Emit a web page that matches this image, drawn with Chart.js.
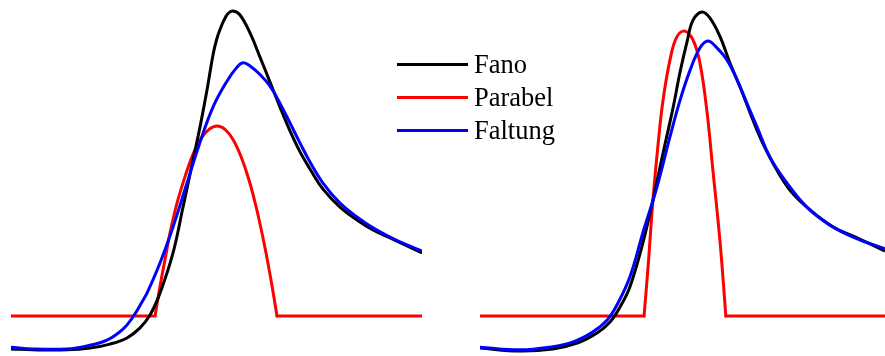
<!DOCTYPE html>
<html lang="de">
<head>
<meta charset="utf-8">
<title>Fano, Parabel, Faltung</title>
<script src="https://cdn.jsdelivr.net/npm/chart.js@4/dist/chart.umd.min.js"></script>
<style>
  html, body { margin: 0; padding: 0; background: #ffffff; }
  body { width: 885px; height: 356px; position: relative; overflow: hidden; }
  canvas { position: absolute; top: 0; }
  #links { left: 11px; }
  #rechts { left: 480px; }
  .leg-line { position: absolute; left: 397px; width: 71px; height: 3px; }
  .leg-text { position: absolute; left: 474px; font-family: "Liberation Serif", "Times New Roman", serif;
              font-size: 26.5px; line-height: 26px; color: #000; white-space: nowrap; }
</style>
</head>
<body>
<canvas id="links" width="411" height="356"></canvas>
<canvas id="rechts" width="405" height="356"></canvas>
<div id="legende"></div>
<script>
// Energieachse (willkürliche Einheiten, 0 … 100) und normierte Intensität (Fano-Maximum = 1)

// Linkes Bild: breite Parabel
const energieFanoL = [0, 5.35, 13.63, 19.22, 24.09, 28.22, 31.39, 33.82, 36.25, 39.42, 41.85, 44.28, 45.99, 47.69, 49.15, 50.0, 50.85, 51.82, 52.80, 54.01, 55.72, 58.15, 60.58, 63.02, 65.45, 67.88, 70.32, 72.75, 75.91, 80.05, 84.18, 88.08, 92.21, 96.35, 100];
const fanoL = [-0.108, -0.111, -0.111, -0.105, -0.092, -0.072, -0.039, 0.003, 0.075, 0.207, 0.357, 0.511, 0.620, 0.741, 0.856, 0.905, 0.939, 0.970, 0.992, 1.0, 0.987, 0.928, 0.849, 0.767, 0.685, 0.607, 0.538, 0.482, 0.416, 0.357, 0.315, 0.282, 0.256, 0.230, 0.207];

const energieParabelL = [0, 35.04, 36.25, 37.47, 38.69, 40.39, 42.34, 44.28, 46.23, 48.18, 50.12, 52.07, 54.01, 55.96, 57.91, 59.85, 61.80, 63.26, 64.72, 100];
const parabelL = [0, 0, 0.097, 0.185, 0.272, 0.370, 0.457, 0.530, 0.582, 0.612, 0.623, 0.612, 0.579, 0.523, 0.446, 0.346, 0.224, 0.118, 0, 0];

const energieFaltungL = [0, 5.35, 13.63, 18.49, 23.36, 27.25, 29.68, 32.12, 33.09, 36.25, 39.42, 42.82, 45.99, 49.15, 52.55, 54.99, 56.45, 58.15, 60.58, 63.02, 65.45, 67.88, 70.32, 72.75, 75.91, 80.05, 84.18, 88.08, 92.21, 96.35, 100];
const faltungL = [-0.102, -0.108, -0.108, -0.098, -0.079, -0.043, -0.003, 0.052, 0.075, 0.174, 0.292, 0.436, 0.570, 0.685, 0.770, 0.816, 0.830, 0.820, 0.792, 0.754, 0.697, 0.633, 0.567, 0.505, 0.436, 0.370, 0.325, 0.289, 0.259, 0.233, 0.213];

// Rechtes Bild: schmale Parabel
const energieFanoR = [0, 9.9, 18.0, 24.0, 28.9, 32.1, 34.6, 37.0, 40.2, 42.7, 45.2, 47.7, 49.4, 51.1, 52.6, 54.8, 56.8, 59.3, 61.7, 64.2, 66.7, 69.1, 72.3, 76.5, 81.5, 87.2, 93.1, 100];
const fanoR = [-0.105, -0.115, -0.108, -0.089, -0.056, -0.020, 0.030, 0.095, 0.239, 0.380, 0.534, 0.685, 0.800, 0.898, 0.970, 0.997, 0.977, 0.915, 0.830, 0.751, 0.666, 0.587, 0.502, 0.413, 0.348, 0.292, 0.256, 0.213];

const energieParabelR = [0, 40.5, 41.5, 42.7, 44.0, 45.2, 46.9, 48.6, 50.6, 52.6, 54.3, 56.0, 57.5, 59.3, 60.7, 100];
const parabelR = [0, 0, 0.161, 0.380, 0.567, 0.708, 0.839, 0.915, 0.934, 0.905, 0.830, 0.675, 0.479, 0.239, 0, 0];

const energieFaltungR = [0, 9.9, 17.3, 23.0, 27.9, 31.4, 33.8, 37.0, 40.2, 43.7, 46.9, 49.4, 51.9, 54.3, 56.3, 58.5, 61.0, 63.5, 65.9, 68.4, 71.6, 75.8, 80.7, 86.4, 92.1, 100];
const faltungR = [-0.102, -0.111, -0.102, -0.085, -0.052, -0.013, 0.036, 0.128, 0.272, 0.423, 0.587, 0.708, 0.807, 0.879, 0.902, 0.879, 0.839, 0.774, 0.698, 0.620, 0.521, 0.436, 0.357, 0.298, 0.259, 0.220];

const kurven = [
  { label: 'Fano',    farbe: '#000000' },
  { label: 'Parabel', farbe: '#ff0000' },
  { label: 'Faltung', farbe: '#0000ff' }
];

const Y_MIN = -0.1311;
const Y_MAX = 1.0361;
const SPANNUNG = 0.4;

function punkte(xs, ys) {
  return xs.map((x, i) => ({ x: x, y: ys[i] }));
}

function glatt(label, farbe, data, order) {
  return {
    label, data, order,
    borderColor: farbe, borderWidth: 3, pointRadius: 0,
    tension: SPANNUNG, fill: false
  };
}

// Die Parabel hat scharfe Knicke an der Nulllinie: Nulllinie gerade, Bogen glatt
function parabelDatensaetze(xs, ys, farbe) {
  const p = punkte(xs, ys);
  const n = p.length;
  const bogen = p.slice(1, n - 1);
  const grund = [p[0], p[1], { x: p[1].x, y: null }, p[n - 2], p[n - 1]];
  return [
    { label: 'Parabel', data: grund, order: 2, borderColor: farbe, borderWidth: 3,
      pointRadius: 0, tension: 0, spanGaps: false, borderCapStyle: 'round', fill: false },
    { label: 'Parabel', data: bogen, order: 2, borderColor: farbe, borderWidth: 3,
      pointRadius: 0, tension: SPANNUNG, borderCapStyle: 'round', fill: false }
  ];
}

function zeichne(id, fano, parabel, faltung) {
  new Chart(document.getElementById(id), {
    type: 'line',
    data: {
      datasets: [
        glatt('Faltung', kurven[2].farbe, punkte(faltung[0], faltung[1]), 0),
        glatt('Fano', kurven[0].farbe, punkte(fano[0], fano[1]), 1),
        ...parabelDatensaetze(parabel[0], parabel[1], kurven[1].farbe)
      ]
    },
    options: {
      responsive: false,
      devicePixelRatio: 1,
      animation: false,
      layout: { padding: 0 },
      plugins: { legend: { display: false }, tooltip: { enabled: false } },
      events: [],
      scales: {
        x: { type: 'linear', min: 0, max: 100, display: false },
        y: { type: 'linear', min: Y_MIN, max: Y_MAX, display: false }
      }
    }
  });
}

zeichne('links', [energieFanoL, fanoL], [energieParabelL, parabelL], [energieFaltungL, faltungL]);
zeichne('rechts', [energieFanoR, fanoR], [energieParabelR, parabelR], [energieFaltungR, faltungR]);

// Legende zwischen den beiden Bildern
const legende = document.getElementById('legende');
const mitten = [64, 97, 130];
kurven.forEach((k, i) => {
  const linie = document.createElement('div');
  linie.className = 'leg-line';
  linie.style.top = (mitten[i] - 1.5) + 'px';
  linie.style.background = k.farbe;
  legende.appendChild(linie);
  const text = document.createElement('span');
  text.className = 'leg-text';
  text.style.top = (mitten[i] + 8.7 - 22) + 'px';
  text.textContent = k.label;
  legende.appendChild(text);
});
</script>
</body>
</html>
